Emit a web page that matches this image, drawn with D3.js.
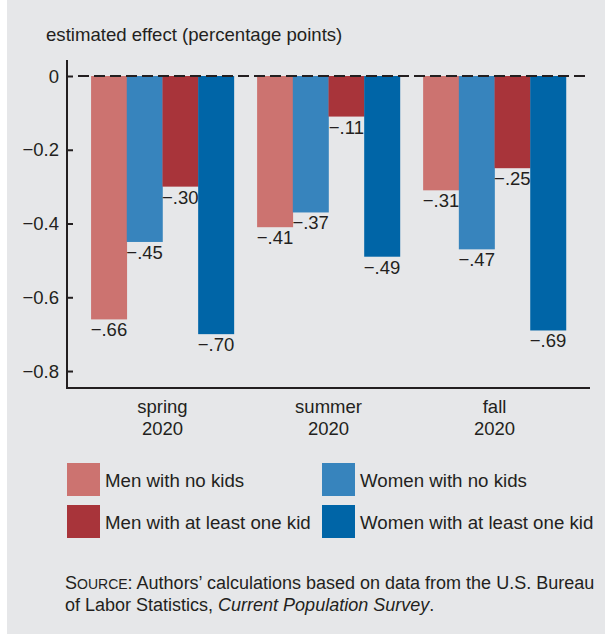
<!DOCTYPE html>
<html>
<head>
<meta charset="utf-8">
<script src="https://cdn.jsdelivr.net/npm/d3@7"></script>
<style>
  body { margin: 0; background: #fff; }
  svg { display: block; font-family: "Liberation Sans", Arial, Helvetica, sans-serif; }
  text { fill: #231f20; }
</style>
</head>
<body>
<svg width="605" height="634"></svg>
<script>
"use strict";

// chart values
const seasons = ["spring", "summer", "fall"];
const years = ["2020", "2020", "2020"];
const groups = ["Men with no kids", "Women with no kids", "Men with at least one kid", "Women with at least one kid"];
const menNoKids = [-0.66, -0.41, -0.31];
const womenNoKids = [-0.45, -0.37, -0.47];
const menWithKid = [-0.30, -0.11, -0.25];
const womenWithKid = [-0.70, -0.49, -0.69];
const yTicks = [0, -0.2, -0.4, -0.6, -0.8];

const series = [menNoKids, womenNoKids, menWithKid, womenWithKid];
const colors = ["#cc7370", "#3784bd", "#a8343a", "#0065a7"];

const svg = d3.select("svg");

// background panel
svg.append("rect")
    .attr("x", 7).attr("y", 0)
    .attr("width", 598).attr("height", 634)
    .attr("fill", "#e6e7e9");

const plotLeft = 67, plotRight = 590, plotTop = 60, plotBottom = 388;

const x = d3.scaleBand()
    .domain(seasons)
    .range([plotLeft, plotRight])
    .paddingInner(0.14)
    .paddingOuter(0.145);

const xInner = d3.scaleBand()
    .domain(d3.range(groups.length))
    .range([0, x.bandwidth()]);

const y = d3.scaleLinear()
    .domain([0.0434, -0.846])
    .range([plotTop, plotBottom]);

const minus = "\u2212";
const fmtVal = (v) => minus + d3.format(".2f")(Math.abs(v)).replace(/^0/, "");
const fmtTick = (v) => v === 0 ? "0" : minus + d3.format(".1f")(Math.abs(v));

// bars
const rows = [];
seasons.forEach((s, i) => {
    series.forEach((arr, j) => rows.push({season: s, k: j, value: arr[i]}));
});

const g = svg.append("g");

g.selectAll(".bar")
    .data(rows)
    .enter().append("rect")
    .attr("class", "bar")
    .attr("x", d => x(d.season) + xInner(d.k))
    .attr("y", y(0))
    .attr("width", xInner.bandwidth() + 0.3)
    .attr("height", d => y(d.value) - y(0))
    .attr("fill", d => colors[d.k]);

g.selectAll(".val")
    .data(rows)
    .enter().append("text")
    .attr("class", "val")
    .attr("x", d => x(d.season) + xInner(d.k) + xInner.bandwidth() / 2)
    .attr("y", d => y(d.value) + 17)
    .attr("text-anchor", "middle")
    .attr("font-size", 18.5)
    .text(d => fmtVal(d.value));

// dashed zero line
svg.append("line")
    .attr("x1", plotLeft + 11).attr("x2", plotRight)
    .attr("y1", y(0)).attr("y2", y(0))
    .attr("stroke", "#231f20")
    .attr("stroke-width", 2)
    .attr("stroke-dasharray", "11,5");

// y axis
const yAxis = svg.append("g")
    .attr("transform", `translate(${plotLeft},0)`)
    .call(d3.axisRight(y).tickValues(yTicks).tickSize(6).tickFormat(""));
yAxis.select(".domain").remove();
yAxis.selectAll("line").attr("stroke", "#231f20").attr("stroke-width", 2);

svg.append("line")
    .attr("x1", plotLeft).attr("x2", plotLeft)
    .attr("y1", plotTop).attr("y2", plotBottom + 1)
    .attr("stroke", "#231f20").attr("stroke-width", 2);

svg.selectAll(".ytick")
    .data(yTicks)
    .enter().append("text")
    .attr("class", "ytick")
    .attr("x", plotLeft - 8)
    .attr("y", d => y(d) + 6.5)
    .attr("text-anchor", "end")
    .attr("font-size", 18.5)
    .text(fmtTick);

// x axis
svg.append("line")
    .attr("x1", plotLeft - 1).attr("x2", plotRight)
    .attr("y1", plotBottom).attr("y2", plotBottom)
    .attr("stroke", "#231f20").attr("stroke-width", 2);

const xl = svg.selectAll(".xlab")
    .data(seasons)
    .enter().append("text")
    .attr("class", "xlab")
    .attr("x", d => x(d) + x.bandwidth() / 2)
    .attr("y", plotBottom + 25)
    .attr("text-anchor", "middle")
    .attr("font-size", 18.5);
xl.append("tspan").text(d => d);
xl.append("tspan")
    .attr("x", d => x(d) + x.bandwidth() / 2)
    .attr("dy", 22)
    .text((d, i) => years[i]);

// title
svg.append("text")
    .attr("x", 46).attr("y", 41)
    .attr("font-size", 18.6)
    .text("estimated effect (percentage points)");

// legend
const legend = svg.selectAll(".leg")
    .data(groups)
    .enter().append("g")
    .attr("class", "leg")
    .attr("transform", (d, i) => `translate(${i % 2 === 0 ? 67 : 322},${i < 2 ? 463 : 505})`);
legend.append("rect")
    .attr("width", 33).attr("height", 33)
    .attr("fill", (d, i) => colors[i]);
legend.append("text")
    .attr("x", 38).attr("y", 23.5)
    .attr("font-size", 18.7)
    .text(d => d);

// source note
const src = svg.append("text")
    .attr("x", 65).attr("y", 589)
    .attr("font-size", 18);
src.append("tspan").text("S");
src.append("tspan").attr("font-size", 14).text("OURCE");
src.append("tspan").text(": Authors\u2019 calculations based on data from the U.S. Bureau");

const src2 = svg.append("text")
    .attr("x", 65).attr("y", 611)
    .attr("font-size", 18);
src2.append("tspan").text("of Labor Statistics, ");
src2.append("tspan").attr("font-style", "italic").text("Current Population Survey");
src2.append("tspan").text(".");
</script>
</body>
</html>
